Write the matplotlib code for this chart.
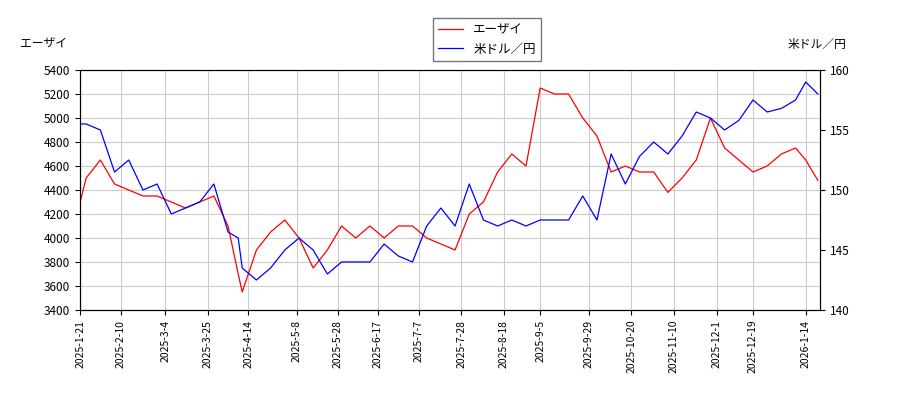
import matplotlib
matplotlib.use("Agg")
import matplotlib.pyplot as plt
import pandas as pd

plt.rcParams['font.family'] = ['Noto Sans CJK JP', 'DejaVu Sans']

dates = ["2025-01-21","2025-01-24","2025-01-31","2025-02-07","2025-02-14","2025-02-21","2025-02-28",
"2025-03-07","2025-03-14","2025-03-21","2025-03-28","2025-04-04","2025-04-09","2025-04-11","2025-04-18",
"2025-04-25","2025-05-02","2025-05-09","2025-05-16","2025-05-23","2025-05-30","2025-06-06","2025-06-13",
"2025-06-20","2025-06-27","2025-07-04","2025-07-11","2025-07-18","2025-07-25","2025-08-01","2025-08-08",
"2025-08-15","2025-08-22","2025-08-29","2025-09-05","2025-09-12","2025-09-19","2025-09-26","2025-10-03",
"2025-10-10","2025-10-17","2025-10-24","2025-10-31","2025-11-07","2025-11-14","2025-11-21","2025-11-28",
"2025-12-05","2025-12-12","2025-12-19","2025-12-26","2026-01-02","2026-01-09","2026-01-14","2026-01-20"]
eisai = [4300,4500,4650,4450,4400,4350,4350,4300,4250,4300,4350,4100,3700,3550,3900,4050,4150,4000,3750,3900,
4100,4000,4100,4000,4100,4100,4000,3950,3900,4200,4300,4550,4700,4600,5250,5200,5200,5000,4850,4550,4600,
4550,4550,4380,4500,4650,5000,4750,4650,4550,4600,4700,4750,4650,4480]
usdjpy = [155.5,155.5,155,151.5,152.5,150,150.5,148,148.5,149,150.5,146.5,146,143.5,142.5,143.5,145,146,145,
143,144,144,144,145.5,144.5,144,147,148.5,147,150.5,147.5,147,147.5,147,147.5,147.5,147.5,149.5,147.5,153,
150.5,152.8,154,153,154.5,156.5,156,155,155.8,157.5,156.5,156.8,157.5,159,158]
tick_dates = ["2025-1-21","2025-2-10","2025-3-4","2025-3-25","2025-4-14","2025-5-8","2025-5-28","2025-6-17",
"2025-7-7","2025-7-28","2025-8-18","2025-9-5","2025-9-29","2025-10-20","2025-11-10","2025-12-1","2025-12-19","2026-1-14"]

d = pd.to_datetime(dates)
fig = plt.figure(figsize=(9, 4), dpi=100)
ax = fig.add_axes([0.089, 0.225, 0.822, 0.6])
ax2 = ax.twinx()
l1, = ax.plot(d, eisai, color='red', lw=0.9, label='エーザイ')
l2, = ax2.plot(d, usdjpy, color='blue', lw=0.9, label='米ドル／円')
ax.set_ylim(3400, 5400)
ax.set_yticks(range(3400, 5401, 200))
ax2.set_ylim(140, 160)
ax2.set_yticks(range(140, 161, 5))
ax.set_xlim(pd.Timestamp("2025-01-21"), pd.Timestamp("2026-01-21"))
ax.set_xticks(pd.to_datetime(tick_dates))
ax.set_xticklabels(tick_dates, rotation=90, fontsize=7.5)
ax.tick_params(axis='y', labelsize=8.5)
ax2.tick_params(axis='y', labelsize=8.5)
ax.grid(True, color='#cccccc')
fig.text(0.022, 0.88, 'エーザイ', fontsize=8.5)
fig.text(0.875, 0.88, '米ドル／円', fontsize=8.5)
fig.legend(handles=[l1, l2], loc='upper center', bbox_to_anchor=(0.541, 0.97), fontsize=9,
           fancybox=False, edgecolor='#555555')
fig.savefig('out.png')
